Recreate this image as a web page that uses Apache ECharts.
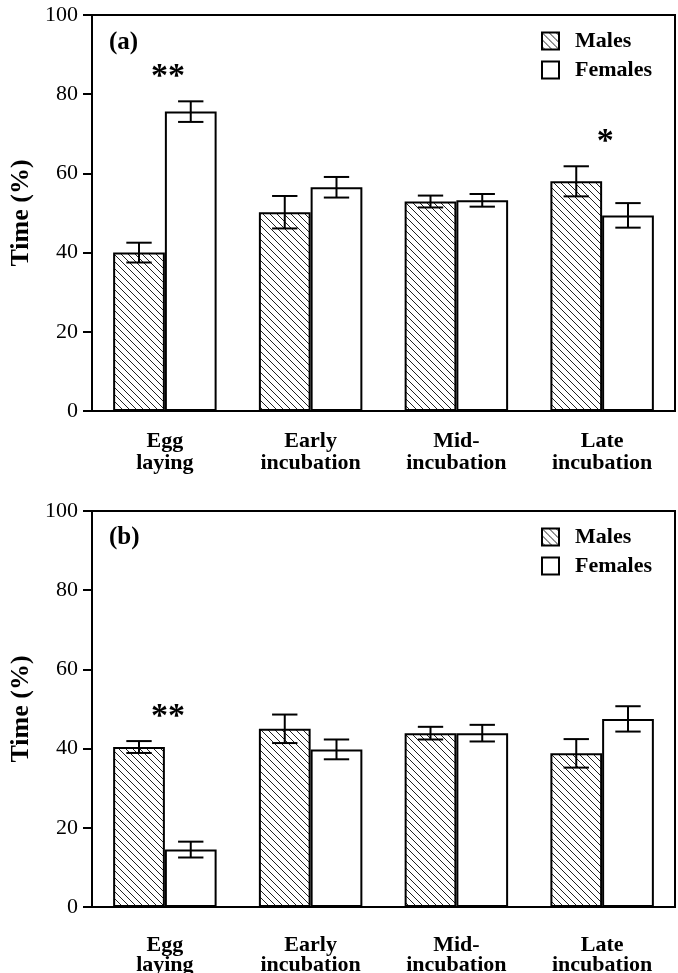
<!DOCTYPE html>
<html><head><meta charset="utf-8">
<script src="https://cdn.jsdelivr.net/npm/echarts@6/dist/echarts.min.js"></script>
<style>html,body{margin:0;padding:0;background:#fff}#c{width:678px;height:973px}</style>
</head><body><div id="c"></div>
<script>
// ---- data ----
const categories = ['Egg\nlaying', 'Early\nincubation', 'Mid-\nincubation', 'Late\nincubation'];
const seriesNames = ['Males', 'Females'];
const yAxisTitle = 'Time (%)';
const panelLabels = ['(a)', '(b)'];
const malesA = [40.0, 50.2, 52.9, 58.0];
const malesAErr = [2.5, 4.1, 1.5, 3.8];
const femalesA = [75.6, 56.5, 53.2, 49.4];
const femalesAErr = [2.6, 2.6, 1.6, 3.1];
const malesB = [40.4, 45.0, 43.9, 38.8];
const malesBErr = [1.5, 3.6, 1.6, 3.6];
const femalesB = [14.5, 39.8, 43.9, 47.5];
const femalesBErr = [2.0, 2.5, 2.1, 3.2];
const sigA = ['**', '', '', '*'];
const sigB = ['**', '', '', ''];

// ---- styling helpers ----
const FONT = '"Liberation Serif", "Times New Roman", serif';
function hatchCanvas() {
  const s = 7;
  const c = document.createElement('canvas');
  c.width = s; c.height = s;
  const g = c.getContext('2d');
  g.fillStyle = '#fff'; g.fillRect(0, 0, s, s);
  g.strokeStyle = '#222'; g.lineWidth = 1;
  for (let k = -1; k <= 1; k++) {
    g.beginPath(); g.moveTo(0, k * s); g.lineTo(s, s + k * s); g.stroke();
  }
  return c;
}
const hatchFill = { image: hatchCanvas(), repeat: 'repeat' };
const BAR_FRAC = 0.355; // bar width as fraction of category band (barCategoryGap 29%)

function barSeries(gi, name, vals, fill) {
  return {
    type: 'bar', name: name, xAxisIndex: gi, yAxisIndex: gi, data: vals,
    barGap: '0%', barCategoryGap: '29%', silent: true,
    itemStyle: { color: fill, borderColor: '#000', borderWidth: 2 }
  };
}
function errSeries(gi, means, errs, side) {
  return {
    type: 'custom', xAxisIndex: gi, yAxisIndex: gi, z: 5, silent: true,
    data: means.map((m, i) => [i, m - errs[i], m + errs[i]]),
    renderItem(params, api) {
      const band = api.size([1, 0])[0];
      const bw = band * BAR_FRAC;
      const cx = api.coord([api.value(0), 0])[0] + side * bw / 2;
      const lo = api.coord([api.value(0), api.value(1)])[1];
      const hi = api.coord([api.value(0), api.value(2)])[1];
      const hw = bw * 0.245;
      const st = { stroke: '#000', lineWidth: 2 };
      return { type: 'group', children: [
        { type: 'line', shape: { x1: cx, y1: lo, x2: cx, y2: hi }, style: st },
        { type: 'line', shape: { x1: cx - hw, y1: lo, x2: cx + hw, y2: lo }, style: st },
        { type: 'line', shape: { x1: cx - hw, y1: hi, x2: cx + hw, y2: hi }, style: st }
      ] };
    }
  };
}
function sigSeries(gi, sig, m, me, f, fe) {
  return {
    type: 'custom', xAxisIndex: gi, yAxisIndex: gi, z: 6, silent: true,
    data: sig.map((t, i) => [i, Math.max(m[i] + me[i], f[i] + fe[i])]),
    renderItem(params, api) {
      const t = sig[params.dataIndex];
      if (!t) return null;
      const p = api.coord([api.value(0), api.value(1)]);
      return { type: 'text', x: p[0] + 3, y: p[1] - 24,
        style: { text: t, fill: '#000', font: 'bold 34px ' + FONT, align: 'center', verticalAlign: 'middle' } };
    }
  };
}
function xAxis(gi, margin, lh) {
  return {
    type: 'category', gridIndex: gi, data: categories,
    axisTick: { show: false },
    axisLine: { lineStyle: { color: '#000', width: 2 } },
    axisLabel: { interval: 0, margin: margin, color: '#000', fontFamily: FONT, fontWeight: 'bold', fontSize: 22, lineHeight: lh }
  };
}
function yAxis(gi) {
  return {
    type: 'value', gridIndex: gi, min: 0, max: 100, interval: 20,
    axisLine: { show: true, lineStyle: { color: '#000', width: 2 } },
    axisTick: { show: true, length: 9, lineStyle: { color: '#000', width: 2 } },
    splitLine: { show: false },
    axisLabel: { margin: 14, color: '#000', fontFamily: FONT, fontSize: 22 },
    name: yAxisTitle, nameLocation: 'middle', nameGap: 49,
    nameTextStyle: { color: '#000', fontFamily: FONT, fontWeight: 'bold', fontSize: 26 }
  };
}
function legend(top) {
  return {
    data: seriesNames, orient: 'vertical', left: 536, top: top,
    itemWidth: 17, itemHeight: 17, itemGap: 7, icon: 'rect', selectedMode: false,
    textStyle: { color: '#000', fontFamily: FONT, fontWeight: 'bold', fontSize: 22, padding: [0, 0, 0, 11] }
  };
}
function title(text, top) {
  return { text: text, left: 109, top: top, padding: 0,
    textStyle: { color: '#000', fontFamily: FONT, fontWeight: 'bold', fontSize: 25, lineHeight: 26 } };
}

const chart = echarts.init(document.getElementById('c'), null, { renderer: 'canvas' });
chart.setOption({
  animation: false,
  backgroundColor: '#fff',
  title: [title(panelLabels[0], 30), title(panelLabels[1], 525)],
  legend: [legend(25), legend(521)],
  grid: [
    { left: 92, right: 3, top: 15, height: 396, show: true, borderColor: '#000', borderWidth: 2, outerBoundsMode: 'none', containLabel: false },
    { left: 92, right: 3, top: 511, height: 396, show: true, borderColor: '#000', borderWidth: 2, outerBoundsMode: 'none', containLabel: false }
  ],
  xAxis: [xAxis(0, 19, 22), xAxis(1, 28, 20)],
  yAxis: [yAxis(0), yAxis(1)],
  series: [
    barSeries(0, seriesNames[0], malesA, hatchFill),
    barSeries(0, seriesNames[1], femalesA, '#fff'),
    barSeries(1, seriesNames[0], malesB, hatchFill),
    barSeries(1, seriesNames[1], femalesB, '#fff'),
    errSeries(0, malesA, malesAErr, -1),
    errSeries(0, femalesA, femalesAErr, 1),
    errSeries(1, malesB, malesBErr, -1),
    errSeries(1, femalesB, femalesBErr, 1),
    sigSeries(0, sigA, malesA, malesAErr, femalesA, femalesAErr),
    sigSeries(1, sigB, malesB, malesBErr, femalesB, femalesBErr)
  ]
});
</script>
</body></html>
